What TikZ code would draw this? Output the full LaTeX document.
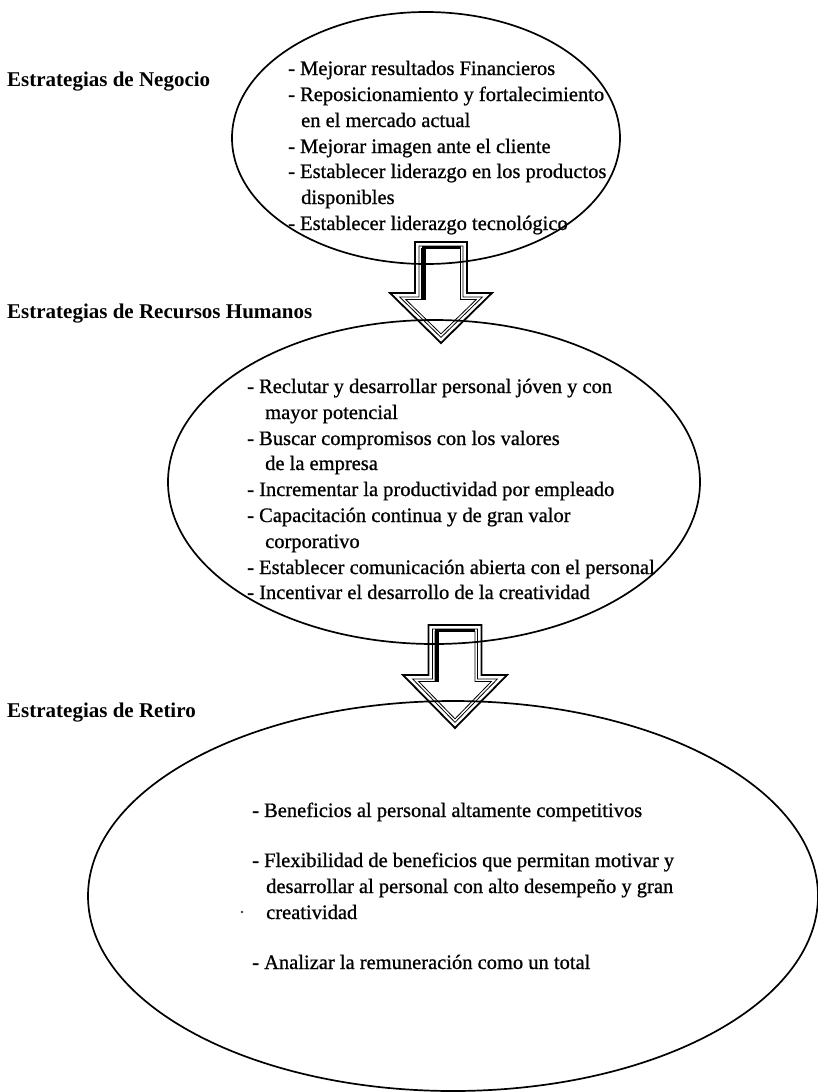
\documentclass[tikz,border=0pt]{standalone}
\usepackage{fontspec}
\setmainfont{Liberation Serif}
\newfontfamily\bodyfont{Liberation Serif}[BoldFont={Liberation Serif}, BoldFeatures={FakeBold=0.8}]
\usetikzlibrary{shapes.geometric}
\newcommand{\arrowpath}[7]{(#1-#3+#7, #2+#7) -- (#1-#3+#7, #5+#7) -- (#1-#4+2.41*#7, #5+#7) -- (#1, #6-1.41*#7) -- (#1+#4-2.41*#7, #5+#7) -- (#1+#3-#7, #5+#7) -- (#1+#3-#7, #2+#7) -- cycle}
\begin{document}
\begin{tikzpicture}[x=1pt,y=-1pt,
  oval/.style={draw, ellipse, line width=1.7pt, inner sep=0pt, outer sep=0pt},
  txt/.style={anchor=base west, inner sep=0pt, font=\bodyfont\bfseries\fontsize{20.5}{24}\selectfont},
  lbl/.style={anchor=base west, inner sep=0pt, font=\fontsize{21}{24}\selectfont\bfseries},
  outerline/.style={draw, line width=1.8pt, line join=miter},
  innerline/.style={draw, line width=0.8pt, line join=miter}
]
\useasboundingbox (0,0) rectangle (818,1092);
\fill[white] (0,0) rectangle (818,1092);

% ellipses
\node[oval, minimum width=388pt, minimum height=252pt] (e1) at (426,138) {};
\node[oval, minimum width=532pt, minimum height=324pt] (e2) at (434,482) {};
\node[oval, minimum width=730pt, minimum height=390pt] (e3) at (453,896) {};

% labels
\node[lbl] (l1) at (7,86) {Estrategias de Negocio};
\node[lbl] (l2) at (7,318) {Estrategias de Recursos Humanos};
\node[lbl] (l3) at (7,717) {Estrategias de Retiro};

% ellipse 1 text
\node[txt] (a1) at (288,75) {- Mejorar resultados Financieros};
\node[txt] (a2) at (288,101) {- Reposicionamiento y fortalecimiento};
\node[txt] (a3) at (301,127) {en el mercado actual};
\node[txt] (a4) at (288,153) {- Mejorar imagen ante el cliente};
\node[txt] (a5) at (288,178) {- Establecer liderazgo en los productos};
\node[txt] (a6) at (301,204) {disponibles};
\node[txt] (a7) at (288,230) {- Establecer liderazgo tecnológico};

% ellipse 2 text
\node[txt] (b1) at (247,393) {- Reclutar y desarrollar personal jóven y con};
\node[txt] (b2) at (265,419) {mayor potencial};
\node[txt] (b3) at (247,445) {- Buscar compromisos con los valores};
\node[txt] (b4) at (265,470) {de la empresa};
\node[txt] (b5) at (247,496) {- Incrementar la productividad por empleado};
\node[txt] (b6) at (247,522) {- Capacitación continua y de gran valor};
\node[txt] (b7) at (265,548) {corporativo};
\node[txt] (b8) at (247,574) {- Establecer comunicación abierta con el personal};
\node[txt] (b9) at (247,599) {- Incentivar el desarrollo de la creatividad};

% ellipse 3 text
\node[txt] (c1) at (252,817) {- Beneficios al personal altamente competitivos};
\node[txt] (c2) at (252,867) {- Flexibilidad de beneficios que permitan motivar y};
\node[txt] (c3) at (266,893) {desarrollar al personal con alto desempeño y gran};
\node[txt] (c4) at (266,919) {creatividad};
\node[txt] (c5) at (252,969) {- Analizar la remuneración como un total};
\fill (242,912) circle (1.2pt);

% arrow 1
\path[outerline] \arrowpath{441}{242}{26}{51}{293}{343}{0};
\path[innerline] \arrowpath{441}{242}{26}{51}{293}{343}{4};
\path[innerline] \arrowpath{441}{242}{26}{51}{293}{343}{6.5};
\fill (441-26+6.5,242+6.5) rectangle (441-26+11,293+6.5);
\fill (441-26+6.5,242+4) rectangle (441+26-6.5,242+6.5);

% arrow 2
\path[outerline] \arrowpath{455}{625}{26.5}{52}{675}{728}{0};
\path[innerline] \arrowpath{455}{625}{26.5}{52}{675}{728}{4};
\path[innerline] \arrowpath{455}{625}{26.5}{52}{675}{728}{6.5};
\fill (455-26.5+6.5,625+6.5) rectangle (455-26.5+10,675+6.5);
\fill (455-26.5+6.5,625+4) rectangle (455+26.5-6.5,625+6);
\end{tikzpicture}
\end{document}
